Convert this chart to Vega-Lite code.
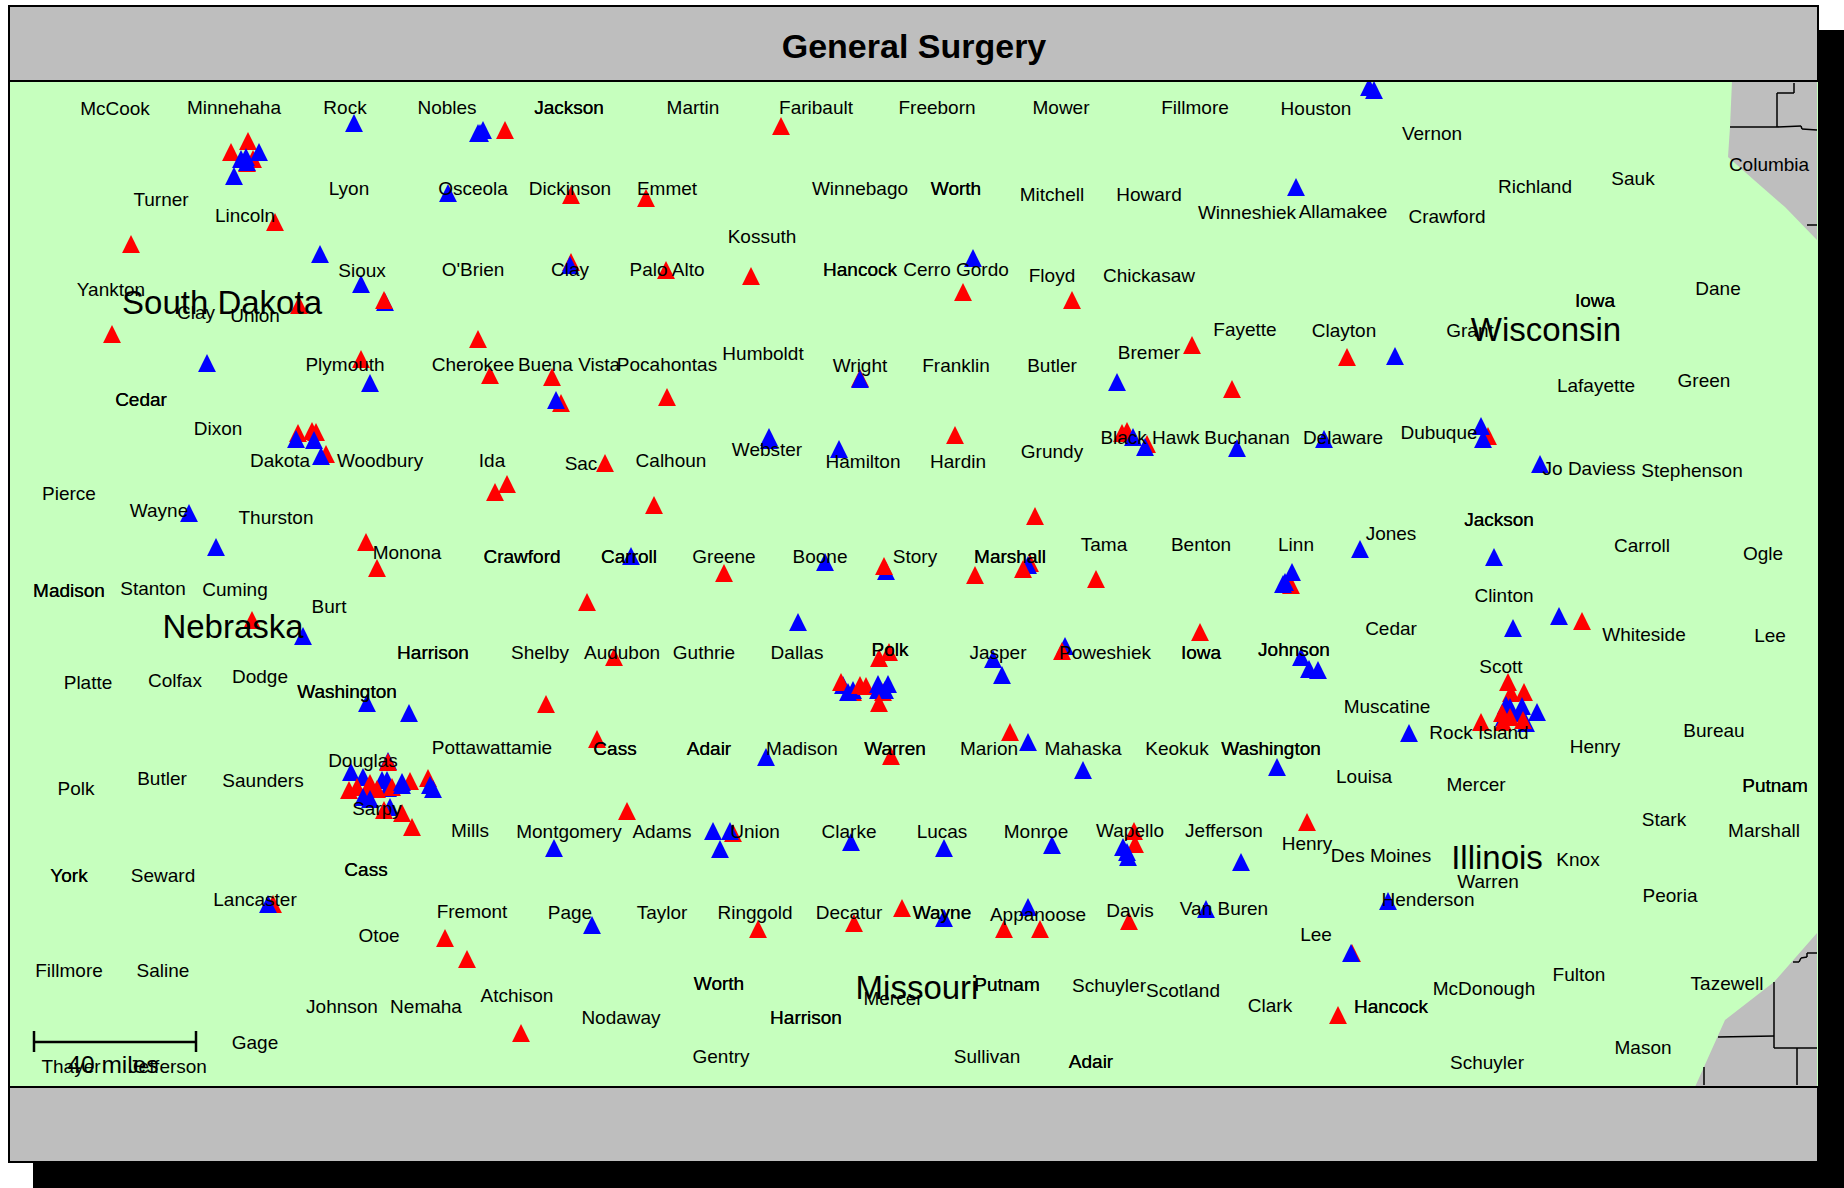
{"$schema":"https://vega.github.io/schema/vega-lite/v6.json","width":1844,"height":1188,"autosize":{"type":"fit","contains":"padding"},"padding":0,"background":"white","config":{"view":{"stroke":null}},
"encoding":{"x":{"field":"x","type":"quantitative","scale":{"domain":[0,1844],"nice":false,"zero":false},"axis":null},"y":{"field":"y","type":"quantitative","scale":{"domain":[0,1188],"reverse":true,"nice":false,"zero":false},"axis":null}},
"layer":[
{"data":{"values":[{"x":33,"x2":1844,"y":30,"y2":1188}]},"mark":{"type":"rect","fill":"#000000"},"encoding":{"x2":{"field":"x2"},"y2":{"field":"y2"}}},
{"data":{"values":[{"x":9,"x2":1818,"y":81,"y2":1087}]},"mark":{"type":"rect","fill":"#C6FFBE"},"encoding":{"x2":{"field":"x2"},"y2":{"field":"y2"}}},
{"data":{"values":[{"y":81,"x":1732,"x2":1817},{"y":127,"x":1730,"x2":1817},{"y":157,"x":1728,"x2":1817},{"y":180,"x":1754,"x2":1817},{"y":207,"x":1785,"x2":1817},{"y":240,"x":1817,"x2":1817}]},"mark":{"type":"area","orient":"horizontal","fill":"#BEBEBE"},"encoding":{"x2":{"field":"x2"}}},
{"data":{"values":[{"y":933,"x":1817,"x2":1817},{"y":982,"x":1774,"x2":1817},{"y":1020,"x":1725,"x2":1817},{"y":1087,"x":1695,"x2":1817}]},"mark":{"type":"area","orient":"horizontal","fill":"#BEBEBE"},"encoding":{"x2":{"field":"x2"}}},
{"data":{"values":[{"x":1730,"y":127,"x2":1777,"y2":127},{"x":1777,"y":127,"x2":1801,"y2":126},{"x":1801,"y":126,"x2":1802,"y2":129},{"x":1802,"y":129,"x2":1817,"y2":130},{"x":1777,"y":127,"x2":1777,"y2":93},{"x":1777,"y":93,"x2":1794,"y2":93},{"x":1794,"y":93,"x2":1794,"y2":83},{"x":1807,"y":225,"x2":1817,"y2":225},{"x":1718,"y":1037,"x2":1774,"y2":1036},{"x":1774,"y":982,"x2":1774,"y2":1048},{"x":1774,"y":1048,"x2":1817,"y2":1048},{"x":1797,"y":1048,"x2":1797,"y2":1085},{"x":1704,"y":1067,"x2":1704,"y2":1085},{"x":1793,"y":962,"x2":1799,"y2":962},{"x":1799,"y":962,"x2":1801,"y2":958},{"x":1801,"y":958,"x2":1807,"y2":957},{"x":1807,"y":957,"x2":1807,"y2":953},{"x":1807,"y":953,"x2":1817,"y2":953}]},"mark":{"type":"rule","stroke":"#000000","strokeWidth":1.5},"encoding":{"x2":{"field":"x2"},"y2":{"field":"y2"}}},
{"data":{"values":[
{"x":354,"y":123,"c":"blue"},{"x":505,"y":130,"c":"red"},{"x":478,"y":133,"c":"blue"},{"x":483,"y":130,"c":"blue"},{"x":480,"y":133,"c":"blue"},
{"x":248,"y":141,"c":"red"},{"x":231,"y":152,"c":"red"},{"x":253,"y":159,"c":"red"},{"x":247,"y":163,"c":"red"},{"x":259,"y":152,"c":"blue"},{"x":241,"y":159,"c":"blue"},{"x":246,"y":157,"c":"blue"},{"x":247,"y":162,"c":"blue"},{"x":234,"y":176,"c":"blue"},
{"x":448,"y":193,"c":"blue"},{"x":571,"y":195,"c":"red"},{"x":275,"y":222,"c":"red"},{"x":131,"y":244,"c":"red"},{"x":320,"y":254,"c":"blue"},{"x":361,"y":284,"c":"blue"},{"x":385,"y":302,"c":"blue"},{"x":384,"y":300,"c":"red"},{"x":299,"y":305,"c":"red"},{"x":112,"y":334,"c":"red"},{"x":571,"y":262,"c":"red"},{"x":570,"y":265,"c":"blue"},{"x":478,"y":339,"c":"red"},{"x":207,"y":363,"c":"blue"},{"x":361,"y":359,"c":"red"},{"x":490,"y":375,"c":"red"},{"x":552,"y":377,"c":"red"},{"x":370,"y":383,"c":"blue"},{"x":561,"y":403,"c":"red"},{"x":556,"y":400,"c":"blue"},
{"x":781,"y":126,"c":"red"},{"x":646,"y":198,"c":"red"},{"x":666,"y":270,"c":"red"},{"x":751,"y":276,"c":"red"},{"x":973,"y":258,"c":"blue"},{"x":963,"y":292,"c":"red"},{"x":1072,"y":300,"c":"red"},{"x":1192,"y":345,"c":"red"},{"x":1117,"y":382,"c":"blue"},{"x":1232,"y":389,"c":"red"},{"x":860,"y":378,"c":"red"},{"x":860,"y":379,"c":"blue"},{"x":667,"y":397,"c":"red"},
{"x":1369,"y":87,"c":"blue"},{"x":1374,"y":90,"c":"blue"},{"x":1296,"y":187,"c":"blue"},{"x":1347,"y":357,"c":"red"},{"x":1395,"y":356,"c":"blue"},
{"x":298,"y":433,"c":"red"},{"x":312,"y":431,"c":"red"},{"x":316,"y":432,"c":"red"},{"x":296,"y":439,"c":"blue"},{"x":314,"y":440,"c":"blue"},{"x":326,"y":454,"c":"red"},{"x":321,"y":456,"c":"blue"},{"x":507,"y":484,"c":"red"},{"x":495,"y":492,"c":"red"},{"x":605,"y":463,"c":"red"},{"x":189,"y":513,"c":"blue"},{"x":216,"y":547,"c":"blue"},{"x":366,"y":542,"c":"red"},{"x":377,"y":568,"c":"red"},{"x":587,"y":602,"c":"red"},{"x":252,"y":620,"c":"red"},{"x":303,"y":636,"c":"blue"},{"x":614,"y":657,"c":"red"},{"x":367,"y":703,"c":"blue"},{"x":409,"y":713,"c":"blue"},{"x":546,"y":704,"c":"red"},{"x":597,"y":739,"c":"red"},
{"x":388,"y":761,"c":"blue"},{"x":388,"y":762,"c":"red"},{"x":351,"y":772,"c":"blue"},{"x":363,"y":777,"c":"blue"},{"x":370,"y":783,"c":"red"},{"x":382,"y":780,"c":"blue"},{"x":387,"y":780,"c":"blue"},{"x":388,"y":788,"c":"blue"},{"x":392,"y":787,"c":"red"},{"x":410,"y":781,"c":"red"},{"x":402,"y":782,"c":"blue"},{"x":402,"y":785,"c":"blue"},{"x":428,"y":778,"c":"red"},{"x":430,"y":785,"c":"blue"},{"x":433,"y":789,"c":"blue"},{"x":349,"y":790,"c":"red"},{"x":357,"y":787,"c":"red"},{"x":377,"y":789,"c":"red"},{"x":370,"y":788,"c":"red"},{"x":363,"y":797,"c":"blue"},{"x":370,"y":799,"c":"blue"},{"x":390,"y":807,"c":"blue"},{"x":384,"y":810,"c":"red"},{"x":402,"y":813,"c":"red"},{"x":412,"y":827,"c":"red"},
{"x":769,"y":437,"c":"blue"},{"x":769,"y":440,"c":"blue"},{"x":839,"y":449,"c":"blue"},{"x":955,"y":435,"c":"red"},{"x":654,"y":505,"c":"red"},{"x":1035,"y":516,"c":"red"},{"x":631,"y":556,"c":"blue"},{"x":724,"y":573,"c":"red"},{"x":825,"y":562,"c":"blue"},{"x":886,"y":571,"c":"blue"},{"x":884,"y":566,"c":"red"},{"x":975,"y":575,"c":"red"},{"x":1030,"y":563,"c":"red"},{"x":1028,"y":565,"c":"blue"},{"x":1023,"y":569,"c":"red"},{"x":1096,"y":579,"c":"red"},{"x":798,"y":622,"c":"blue"},{"x":889,"y":652,"c":"red"},{"x":879,"y":658,"c":"red"},{"x":993,"y":659,"c":"blue"},{"x":1002,"y":675,"c":"blue"},{"x":1065,"y":646,"c":"blue"},{"x":1062,"y":651,"c":"red"},{"x":1200,"y":632,"c":"red"},
{"x":843,"y":685,"c":"blue"},{"x":841,"y":682,"c":"red"},{"x":853,"y":692,"c":"red"},{"x":853,"y":690,"c":"blue"},{"x":848,"y":692,"c":"blue"},{"x":860,"y":685,"c":"red"},{"x":866,"y":686,"c":"red"},{"x":883,"y":692,"c":"red"},{"x":878,"y":684,"c":"blue"},{"x":888,"y":684,"c":"blue"},{"x":878,"y":690,"c":"blue"},{"x":885,"y":690,"c":"blue"},{"x":879,"y":703,"c":"red"},
{"x":1010,"y":732,"c":"red"},{"x":1028,"y":742,"c":"blue"},{"x":766,"y":757,"c":"blue"},{"x":891,"y":756,"c":"red"},{"x":1083,"y":770,"c":"blue"},
{"x":1237,"y":448,"c":"blue"},{"x":1324,"y":439,"c":"blue"},{"x":1488,"y":436,"c":"red"},{"x":1481,"y":426,"c":"blue"},{"x":1483,"y":439,"c":"blue"},{"x":1540,"y":464,"c":"blue"},{"x":1360,"y":549,"c":"blue"},{"x":1494,"y":557,"c":"blue"},{"x":1291,"y":585,"c":"red"},{"x":1292,"y":572,"c":"blue"},{"x":1285,"y":582,"c":"blue"},{"x":1283,"y":584,"c":"blue"},{"x":1513,"y":628,"c":"blue"},{"x":1559,"y":616,"c":"blue"},{"x":1582,"y":621,"c":"red"},{"x":1301,"y":657,"c":"blue"},{"x":1309,"y":669,"c":"blue"},{"x":1318,"y":670,"c":"blue"},{"x":1409,"y":733,"c":"blue"},{"x":1277,"y":767,"c":"blue"},
{"x":1122,"y":433,"c":"red"},{"x":1127,"y":431,"c":"red"},{"x":1133,"y":437,"c":"blue"},{"x":1147,"y":444,"c":"red"},{"x":1145,"y":447,"c":"blue"},
{"x":1508,"y":682,"c":"red"},{"x":1511,"y":693,"c":"red"},{"x":1524,"y":692,"c":"red"},{"x":1526,"y":723,"c":"blue"},{"x":1506,"y":705,"c":"blue"},{"x":1510,"y":707,"c":"blue"},{"x":1522,"y":706,"c":"blue"},{"x":1537,"y":712,"c":"blue"},{"x":1520,"y":713,"c":"blue"},{"x":1504,"y":717,"c":"blue"},{"x":1510,"y":717,"c":"red"},{"x":1502,"y":713,"c":"red"},{"x":1503,"y":722,"c":"red"},{"x":1523,"y":720,"c":"red"},{"x":1481,"y":722,"c":"red"},
{"x":554,"y":848,"c":"blue"},{"x":273,"y":904,"c":"red"},{"x":268,"y":904,"c":"blue"},{"x":445,"y":938,"c":"red"},{"x":467,"y":959,"c":"red"},{"x":592,"y":925,"c":"blue"},{"x":521,"y":1033,"c":"red"},
{"x":627,"y":811,"c":"red"},{"x":713,"y":831,"c":"blue"},{"x":733,"y":833,"c":"red"},{"x":730,"y":831,"c":"blue"},{"x":720,"y":849,"c":"blue"},{"x":851,"y":842,"c":"blue"},{"x":944,"y":848,"c":"blue"},{"x":1052,"y":845,"c":"blue"},{"x":1134,"y":831,"c":"red"},{"x":1135,"y":844,"c":"red"},{"x":1123,"y":847,"c":"blue"},{"x":1127,"y":852,"c":"blue"},{"x":1128,"y":857,"c":"blue"},{"x":902,"y":908,"c":"red"},{"x":944,"y":918,"c":"blue"},{"x":1028,"y":907,"c":"blue"},{"x":1004,"y":929,"c":"red"},{"x":1040,"y":929,"c":"red"},{"x":1129,"y":921,"c":"red"},{"x":1206,"y":909,"c":"blue"},{"x":758,"y":929,"c":"red"},{"x":854,"y":923,"c":"red"},
{"x":1241,"y":862,"c":"blue"},{"x":1307,"y":822,"c":"red"},{"x":1388,"y":901,"c":"blue"},{"x":1352,"y":953,"c":"red"},{"x":1351,"y":953,"c":"blue"},{"x":1338,"y":1015,"c":"red"}
]},"mark":{"type":"point","filled":true,"opacity":1,"shape":"M0,-1L-1,1L1,1Z","size":320},"encoding":{"color":{"field":"c","type":"nominal","scale":{"domain":["red","blue"],"range":["#FF0000","#0000FF"]},"legend":null}}},
{"data":{"values":[
{"x":115,"y":108,"t":"McCook"},{"x":234,"y":107,"t":"Minnehaha"},{"x":345,"y":107,"t":"Rock"},{"x":447,"y":107,"t":"Nobles"},{"x":569,"y":107,"t":"Jackson"},{"x":569,"y":107,"t":"Jackson"},{"x":693,"y":107,"t":"Martin"},{"x":816,"y":107,"t":"Faribault"},{"x":937,"y":107,"t":"Freeborn"},{"x":1061,"y":107,"t":"Mower"},{"x":1195,"y":107,"t":"Fillmore"},{"x":1316,"y":108,"t":"Houston"},{"x":1432,"y":133,"t":"Vernon"},{"x":161,"y":199,"t":"Turner"},{"x":245,"y":215,"t":"Lincoln"},{"x":349,"y":188,"t":"Lyon"},{"x":473,"y":188,"t":"Osceola"},{"x":570,"y":188,"t":"Dickinson"},{"x":667,"y":188,"t":"Emmet"},{"x":860,"y":188,"t":"Winnebago"},{"x":956,"y":188,"t":"Worth"},{"x":956,"y":188,"t":"Worth"},{"x":1052,"y":194,"t":"Mitchell"},{"x":1149,"y":194,"t":"Howard"},{"x":1247,"y":212,"t":"Winneshiek"},{"x":1343,"y":211,"t":"Allamakee"},{"x":1447,"y":216,"t":"Crawford"},{"x":1535,"y":186,"t":"Richland"},{"x":1633,"y":178,"t":"Sauk"},{"x":1769,"y":164,"t":"Columbia"},{"x":762,"y":236,"t":"Kossuth"},{"x":111,"y":289,"t":"Yankton"},{"x":196,"y":312,"t":"Clay"},{"x":255,"y":315,"t":"Union"},{"x":362,"y":270,"t":"Sioux"},{"x":473,"y":269,"t":"O'Brien"},{"x":570,"y":269,"t":"Clay"},{"x":667,"y":269,"t":"Palo Alto"},{"x":860,"y":269,"t":"Hancock"},{"x":860,"y":269,"t":"Hancock"},{"x":956,"y":269,"t":"Cerro Gordo"},{"x":1052,"y":275,"t":"Floyd"},{"x":1149,"y":275,"t":"Chickasaw"},{"x":1595,"y":300,"t":"Iowa"},{"x":1595,"y":300,"t":"Iowa"},{"x":1718,"y":288,"t":"Dane"},{"x":1470,"y":330,"t":"Grant"},{"x":1245,"y":329,"t":"Fayette"},{"x":1344,"y":330,"t":"Clayton"},{"x":345,"y":364,"t":"Plymouth"},{"x":473,"y":364,"t":"Cherokee"},{"x":569,"y":364,"t":"Buena Vista"},{"x":667,"y":364,"t":"Pocahontas"},{"x":763,"y":353,"t":"Humboldt"},{"x":860,"y":365,"t":"Wright"},{"x":956,"y":365,"t":"Franklin"},{"x":1052,"y":365,"t":"Butler"},{"x":1149,"y":352,"t":"Bremer"},{"x":1596,"y":385,"t":"Lafayette"},{"x":1704,"y":380,"t":"Green"},{"x":141,"y":399,"t":"Cedar"},{"x":141,"y":399,"t":"Cedar"},{"x":218,"y":428,"t":"Dixon"},{"x":280,"y":460,"t":"Dakota"},{"x":380,"y":460,"t":"Woodbury"},{"x":492,"y":460,"t":"Ida"},{"x":581,"y":463,"t":"Sac"},{"x":671,"y":460,"t":"Calhoun"},{"x":767,"y":449,"t":"Webster"},{"x":863,"y":461,"t":"Hamilton"},{"x":958,"y":461,"t":"Hardin"},{"x":1052,"y":451,"t":"Grundy"},{"x":1150,"y":437,"t":"Black Hawk"},{"x":1247,"y":437,"t":"Buchanan"},{"x":1343,"y":437,"t":"Delaware"},{"x":1439,"y":432,"t":"Dubuque"},{"x":1589,"y":468,"t":"Jo Daviess"},{"x":1692,"y":470,"t":"Stephenson"},{"x":69,"y":493,"t":"Pierce"},{"x":159,"y":510,"t":"Wayne"},{"x":276,"y":517,"t":"Thurston"},{"x":407,"y":552,"t":"Monona"},{"x":522,"y":556,"t":"Crawford"},{"x":522,"y":556,"t":"Crawford"},{"x":629,"y":556,"t":"Carroll"},{"x":629,"y":556,"t":"Carroll"},{"x":724,"y":556,"t":"Greene"},{"x":820,"y":556,"t":"Boone"},{"x":915,"y":556,"t":"Story"},{"x":1010,"y":556,"t":"Marshall"},{"x":1010,"y":556,"t":"Marshall"},{"x":1104,"y":544,"t":"Tama"},{"x":1201,"y":544,"t":"Benton"},{"x":1296,"y":544,"t":"Linn"},{"x":1391,"y":533,"t":"Jones"},{"x":1499,"y":519,"t":"Jackson"},{"x":1499,"y":519,"t":"Jackson"},{"x":1642,"y":545,"t":"Carroll"},{"x":1763,"y":553,"t":"Ogle"},{"x":69,"y":590,"t":"Madison"},{"x":69,"y":590,"t":"Madison"},{"x":153,"y":588,"t":"Stanton"},{"x":235,"y":589,"t":"Cuming"},{"x":329,"y":606,"t":"Burt"},{"x":1504,"y":595,"t":"Clinton"},{"x":1391,"y":628,"t":"Cedar"},{"x":1644,"y":634,"t":"Whiteside"},{"x":1770,"y":635,"t":"Lee"},{"x":433,"y":652,"t":"Harrison"},{"x":433,"y":652,"t":"Harrison"},{"x":540,"y":652,"t":"Shelby"},{"x":622,"y":652,"t":"Audubon"},{"x":704,"y":652,"t":"Guthrie"},{"x":797,"y":652,"t":"Dallas"},{"x":890,"y":649,"t":"Polk"},{"x":890,"y":649,"t":"Polk"},{"x":998,"y":652,"t":"Jasper"},{"x":1105,"y":652,"t":"Poweshiek"},{"x":1201,"y":652,"t":"Iowa"},{"x":1201,"y":652,"t":"Iowa"},{"x":1294,"y":649,"t":"Johnson"},{"x":1294,"y":649,"t":"Johnson"},{"x":1501,"y":666,"t":"Scott"},{"x":88,"y":682,"t":"Platte"},{"x":175,"y":680,"t":"Colfax"},{"x":260,"y":676,"t":"Dodge"},{"x":347,"y":691,"t":"Washington"},{"x":347,"y":691,"t":"Washington"},{"x":1387,"y":706,"t":"Muscatine"},{"x":1479,"y":732,"t":"Rock Island"},{"x":1595,"y":746,"t":"Henry"},{"x":1714,"y":730,"t":"Bureau"},{"x":492,"y":747,"t":"Pottawattamie"},{"x":615,"y":748,"t":"Cass"},{"x":615,"y":748,"t":"Cass"},{"x":709,"y":748,"t":"Adair"},{"x":709,"y":748,"t":"Adair"},{"x":802,"y":748,"t":"Madison"},{"x":895,"y":748,"t":"Warren"},{"x":895,"y":748,"t":"Warren"},{"x":989,"y":748,"t":"Marion"},{"x":1083,"y":748,"t":"Mahaska"},{"x":1177,"y":748,"t":"Keokuk"},{"x":1271,"y":748,"t":"Washington"},{"x":1271,"y":748,"t":"Washington"},{"x":363,"y":760,"t":"Douglas"},{"x":76,"y":788,"t":"Polk"},{"x":162,"y":778,"t":"Butler"},{"x":263,"y":780,"t":"Saunders"},{"x":1364,"y":776,"t":"Louisa"},{"x":1476,"y":784,"t":"Mercer"},{"x":1775,"y":785,"t":"Putnam"},{"x":1775,"y":785,"t":"Putnam"},{"x":377,"y":808,"t":"Sarpy"},{"x":470,"y":830,"t":"Mills"},{"x":569,"y":831,"t":"Montgomery"},{"x":662,"y":831,"t":"Adams"},{"x":755,"y":831,"t":"Union"},{"x":849,"y":831,"t":"Clarke"},{"x":942,"y":831,"t":"Lucas"},{"x":1036,"y":831,"t":"Monroe"},{"x":1130,"y":830,"t":"Wapello"},{"x":1224,"y":830,"t":"Jefferson"},{"x":1664,"y":819,"t":"Stark"},{"x":1764,"y":830,"t":"Marshall"},{"x":1307,"y":843,"t":"Henry"},{"x":1381,"y":855,"t":"Des Moines"},{"x":1578,"y":859,"t":"Knox"},{"x":1488,"y":881,"t":"Warren"},{"x":69,"y":875,"t":"York"},{"x":69,"y":875,"t":"York"},{"x":163,"y":875,"t":"Seward"},{"x":366,"y":869,"t":"Cass"},{"x":366,"y":869,"t":"Cass"},{"x":255,"y":899,"t":"Lancaster"},{"x":1428,"y":899,"t":"Henderson"},{"x":1670,"y":895,"t":"Peoria"},{"x":472,"y":911,"t":"Fremont"},{"x":570,"y":912,"t":"Page"},{"x":662,"y":912,"t":"Taylor"},{"x":755,"y":912,"t":"Ringgold"},{"x":849,"y":912,"t":"Decatur"},{"x":942,"y":912,"t":"Wayne"},{"x":942,"y":912,"t":"Wayne"},{"x":1038,"y":914,"t":"Appanoose"},{"x":1130,"y":910,"t":"Davis"},{"x":1224,"y":908,"t":"Van Buren"},{"x":379,"y":935,"t":"Otoe"},{"x":1316,"y":934,"t":"Lee"},{"x":69,"y":970,"t":"Fillmore"},{"x":163,"y":970,"t":"Saline"},{"x":1579,"y":974,"t":"Fulton"},{"x":1727,"y":983,"t":"Tazewell"},{"x":719,"y":983,"t":"Worth"},{"x":719,"y":983,"t":"Worth"},{"x":1007,"y":984,"t":"Putnam"},{"x":1007,"y":984,"t":"Putnam"},{"x":1109,"y":985,"t":"Schuyler"},{"x":1183,"y":990,"t":"Scotland"},{"x":1484,"y":988,"t":"McDonough"},{"x":517,"y":995,"t":"Atchison"},{"x":893,"y":998,"t":"Mercer"},{"x":342,"y":1006,"t":"Johnson"},{"x":426,"y":1006,"t":"Nemaha"},{"x":1270,"y":1005,"t":"Clark"},{"x":1391,"y":1006,"t":"Hancock"},{"x":1391,"y":1006,"t":"Hancock"},{"x":621,"y":1017,"t":"Nodaway"},{"x":806,"y":1017,"t":"Harrison"},{"x":806,"y":1017,"t":"Harrison"},{"x":255,"y":1042,"t":"Gage"},{"x":721,"y":1056,"t":"Gentry"},{"x":987,"y":1056,"t":"Sullivan"},{"x":1091,"y":1061,"t":"Adair"},{"x":1091,"y":1061,"t":"Adair"},{"x":1487,"y":1062,"t":"Schuyler"},{"x":1643,"y":1047,"t":"Mason"},{"x":71,"y":1066,"t":"Thayer"},{"x":168,"y":1066,"t":"Jefferson"}
]},"mark":{"type":"text","font":"Liberation Sans","fontSize":19,"align":"center","baseline":"middle","dy":1,"fill":"#000000"},"encoding":{"text":{"field":"t"}}},
{"data":{"values":[{"x":222,"y":303,"t":"South Dakota"},{"x":1546,"y":330,"t":"Wisconsin"},{"x":233,"y":627,"t":"Nebraska"},{"x":1497,"y":858,"t":"Illinois"},{"x":917,"y":988,"t":"Missouri"}]},"mark":{"type":"text","font":"Liberation Sans","fontSize":33,"align":"center","baseline":"middle","dy":1,"fill":"#000000"},"encoding":{"text":{"field":"t"}}},
{"data":{"values":[{"x":113,"y":1065,"t":"40 miles"}]},"mark":{"type":"text","font":"Liberation Sans","fontSize":24.5,"align":"center","baseline":"middle","dy":1,"fill":"#000000"},"encoding":{"text":{"field":"t"}}},
{"data":{"values":[{"x":34,"y":1042,"x2":196,"y2":1042},{"x":34,"y":1031,"x2":34,"y2":1052},{"x":196,"y":1031,"x2":196,"y2":1052}]},"mark":{"type":"rule","stroke":"#000000","strokeWidth":2.5},"encoding":{"x2":{"field":"x2"},"y2":{"field":"y2"}}},
{"data":{"values":[{"x":9,"x2":1818,"y":6,"y2":81},{"x":9,"x2":1818,"y":1087,"y2":1162}]},"mark":{"type":"rect","fill":"#BEBEBE","stroke":"#000000","strokeWidth":2},"encoding":{"x2":{"field":"x2"},"y2":{"field":"y2"}}},
{"data":{"values":[{"x":9,"y":81,"x2":9,"y2":1087}]},"mark":{"type":"rule","stroke":"#000000","strokeWidth":2},"encoding":{"x2":{"field":"x2"},"y2":{"field":"y2"}}},
{"data":{"values":[{"x":914,"y":46,"t":"General Surgery"}]},"mark":{"type":"text","font":"Liberation Sans","fontWeight":"bold","fontSize":34,"align":"center","baseline":"middle","dy":2,"fill":"#000000"},"encoding":{"text":{"field":"t"}}}
]}
